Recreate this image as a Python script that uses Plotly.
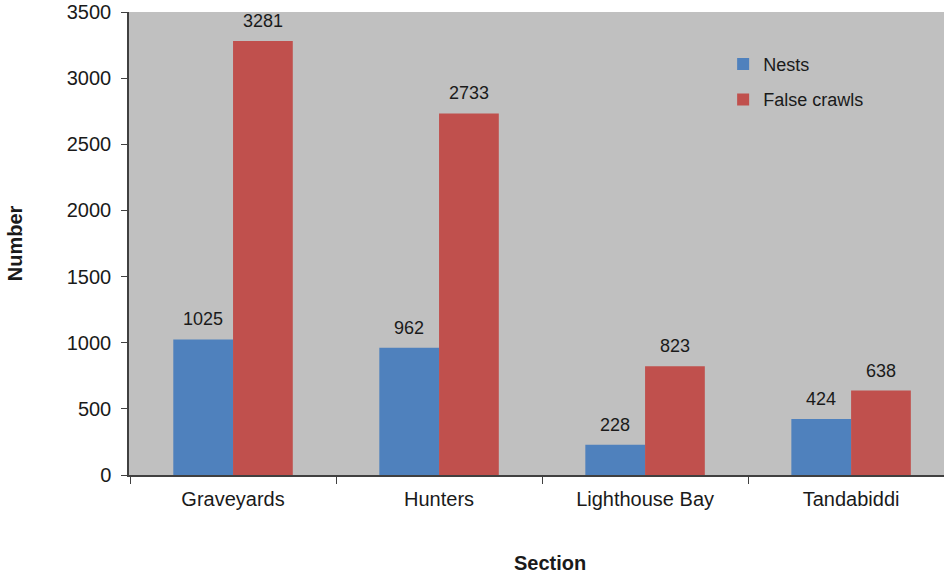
import plotly.graph_objects as go

sections = ["Graveyards", "Hunters", "Lighthouse Bay", "Tandabiddi"]
nests = [1025, 962, 228, 424]
false_crawls = [3281, 2733, 823, 638]

FONT = "Liberation Sans, Arial, sans-serif"
BARGAP = 0.42
X_RANGE = [-0.505, 3.451]
PLOT_W = 944 - 129
cat_px = PLOT_W / (X_RANGE[1] - X_RANGE[0])
bar_px = cat_px * (1 - BARGAP) / 2

fig = go.Figure()
fig.add_trace(go.Bar(x=sections, y=nests, name="Nests", marker_color="#4f81bd",
                     marker_line_width=0, legendgroup="a"))
fig.add_trace(go.Bar(x=sections, y=false_crawls, name="False crawls", marker_color="#c0504d",
                     marker_line_width=0, legendgroup="b"))

for series, sign in ((nests, -1), (false_crawls, 1)):
    for cat, v in zip(sections, series):
        fig.add_annotation(x=cat, y=v, xref="x", yref="y", text=str(v), showarrow=False,
                           xshift=sign * bar_px / 2, yshift=20, yanchor="middle",
                           font=dict(size=18, color="#1a1a1a", family=FONT))

# x-axis title, centred like the original (under the full category span)
fig.add_annotation(text="<b>Section</b>", xref="paper", yref="paper",
                   x=0.5166, y=-0.19, xanchor="center", yanchor="middle",
                   showarrow=False, font=dict(size=20, color="#1a1a1a", family=FONT))

fig.update_layout(
    width=944, height=573,
    margin=dict(l=129, r=0, t=12, b=98),
    paper_bgcolor="white", plot_bgcolor="#c0c0c0",
    barmode="group", bargap=BARGAP, bargroupgap=0,
    font=dict(family=FONT, size=20, color="#1a1a1a"),
    showlegend=True,
    legend=dict(x=0.729, y=0.927, xanchor="left", yanchor="top",
                bgcolor="rgba(0,0,0,0)", font=dict(size=18),
                traceorder="grouped", tracegroupgap=9, itemwidth=30),
    xaxis=dict(range=X_RANGE, showline=True, linecolor="#404040", linewidth=1.5,
               ticks="outside", tickson="boundaries", ticklen=7, tickcolor="#404040",
               ticklabelstandoff=5,
               tickfont=dict(size=20)),
    yaxis=dict(range=[0, 3500], dtick=500, showgrid=False, zeroline=False,
               showline=True, linecolor="#404040", linewidth=1.5,
               ticks="outside", ticklen=6, tickcolor="#404040",
               ticklabelstandoff=6,
               title=dict(text="<b>Number</b>", standoff=39, font=dict(size=20)),
               tickfont=dict(size=20)),
)

fig.write_html("out.html")
